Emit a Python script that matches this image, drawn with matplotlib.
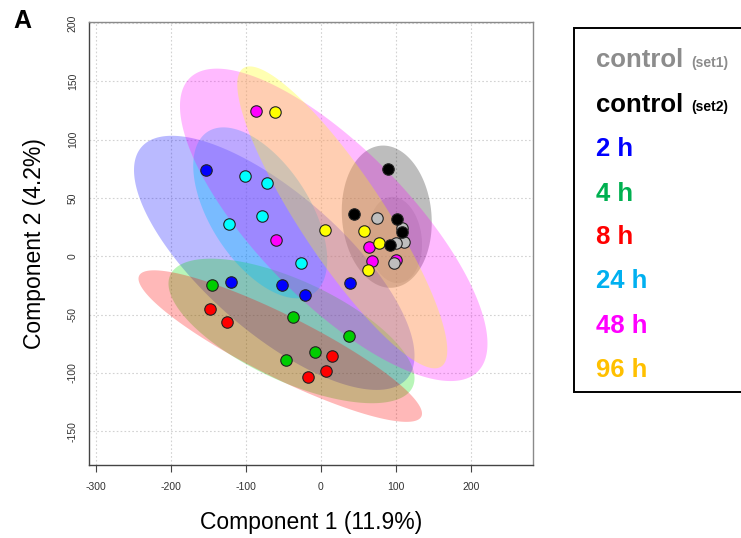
import numpy as np
import matplotlib
matplotlib.use("Agg")
import matplotlib.pyplot as plt
from matplotlib.patches import Rectangle

plt.rcParams['font.family'] = ['Liberation Sans', 'DejaVu Sans']

# ---------------- data ----------------
groups = ['control (set1)', 'control (set2)', '2 h', '4 h', '8 h', '24 h', '48 h', '96 h']

pc1_set1 = [74.9, 111.3, 100.3, 97.1, 108.7]
pc2_set1 = [32.8, 12.6, 11.1, -5.7, 24.0]
pc1_set2 = [89.6, 44.7, 101.1, 108.7, 92.7]
pc2_set2 = [75.2, 36.0, 31.7, 20.6, 9.4]
pc1_2h = [-152.7, -119.3, -51.7, -21.6, 38.4]
pc2_2h = [73.8, -22.0, -24.3, -32.8, -22.6]
pc1_4h = [-145.1, -37.1, 37.1, -7.7, -46.0]
pc2_4h = [-24.6, -52.3, -68.6, -81.7, -88.6]
pc1_8h = [-148.0, -125.1, 15.3, 7.3, -17.6]
pc2_8h = [-45.5, -56.6, -85.8, -98.6, -103.2]
pc1_24h = [-101.1, -72.3, -78.4, -122.9, -26.0]
pc2_24h = [68.6, 63.2, 34.3, 27.4, -5.7]
pc1_48h = [-86.0, -59.3, 64.7, 67.7, 99.7]
pc2_48h = [124.4, 13.7, 8.3, -4.3, -2.8]
pc1_96h = [-61.6, 5.1, 58.0, 78.0, 62.9]
pc2_96h = [124.1, 22.9, 21.7, 11.4, -11.4]

# confidence ellipses: centre x, centre y, half-range x, half-range y, correlation
ell_cx = [99.0, 88.0, -62.0, -39.0, -54.0, -80.7, 17.3, 28.7]
ell_cy = [14.0, 34.0, -5.6, -64.0, -77.0, 37.3, 27.0, 33.4]
ell_rx = [36.0, 60.0, 187.0, 164.0, 189.0, 89.3, 205.0, 140.0]
ell_ry = [37.0, 61.0, 109.0, 62.0, 65.0, 73.3, 134.0, 129.5]
ell_r = [-0.1, -0.08, -0.73, -0.655, -0.89, -0.55, -0.76, -0.88]

point_colors = ['#bebebe', '#000000', '#0000ff', '#00cd00', '#ff0000', '#00ffff', '#ff00ff', '#ffff00']
fill_colors = ['#bebebe', '#000000', '#0000ff', '#00dd00', '#ff0000', '#00bfff', '#ff00ff', '#ffff00']
fill_alpha = [0.35, 0.26, 0.27, 0.28, 0.28, 0.35, 0.27, 0.3]
legend_colors = ['#8c8c8c', '#000000', '#0000ff', '#00b050', '#ff0000', '#00b0f0', '#ff00ff', '#ffc000']

xticks = [-300, -200, -100, 0, 100, 200]
yticks = [-150, -100, -50, 0, 50, 100, 150, 200]

pcs = [(pc1_set1, pc2_set1), (pc1_set2, pc2_set2), (pc1_2h, pc2_2h), (pc1_4h, pc2_4h),
       (pc1_8h, pc2_8h), (pc1_24h, pc2_24h), (pc1_48h, pc2_48h), (pc1_96h, pc2_96h)]

# ---------------- figure ----------------
W, H = 741, 538
fig = plt.figure(figsize=(W / 100, H / 100), dpi=100)
L, R, T, B = 89, 533, 22, 465
ax = fig.add_axes([L / W, 1 - B / H, (R - L) / W, (B - T) / H])
ax.set_xlim(-309, 283)
ax.set_ylim(-179, 201)

ax.set_xticks(xticks)
ax.set_yticks(yticks)
ax.set_xticklabels([str(v) for v in xticks])
ax.set_yticklabels([str(v) for v in yticks], rotation=90, va='center')
ax.tick_params(axis='x', length=5, width=0.8, color='#444444', labelsize=7.5,
               labelcolor='#333333', pad=7)
ax.tick_params(axis='y', length=0, labelsize=7.5, labelcolor='#333333', pad=8)
ax.grid(True, linestyle=(0, (1.5, 2)), color='#d2d2d2', linewidth=0.8)
ax.set_axisbelow(True)
for s in ['left', 'bottom']:
    ax.spines[s].set_color('#444444')
    ax.spines[s].set_linewidth(1.0)
for s in ['top', 'right']:
    ax.spines[s].set_color('#8a8a8a')
    ax.spines[s].set_linewidth(1.0)

t = np.linspace(0, 2 * np.pi, 300)
draw_order = [0, 1, 2, 3, 4, 5, 6, 7]
for i in draw_order:
    ex = ell_cx[i] + ell_rx[i] * np.cos(t)
    ey = ell_cy[i] + ell_ry[i] * (ell_r[i] * np.cos(t) + np.sqrt(1 - ell_r[i] ** 2) * np.sin(t))
    ax.fill(ex, ey, color=fill_colors[i], alpha=fill_alpha[i], linewidth=0, zorder=2)

point_order = [2, 3, 4, 5, 6, 7, 0, 1]
for i in point_order:
    xs, ys = pcs[i]
    ax.scatter(xs, ys, s=68, c=point_colors[i], edgecolors='#222222', linewidths=0.8, zorder=5)

ax.set_xlabel('Component 1 (11.9%)', fontsize=16.5, labelpad=14)
ax.set_ylabel('Component 2 (4.2%)', fontsize=16.5, labelpad=16)

fig.text(13 / W, 1 - 28 / H, 'A', fontsize=18, fontweight='bold', va='baseline', ha='left')

# ---------------- legend ----------------
box = Rectangle((574 / W, 1 - 392 / H), 200 / W, (392 - 28) / H, transform=fig.transFigure,
                facecolor='white', edgecolor='black', linewidth=1.4, clip_on=False)
fig.patches.append(box)

fig.canvas.draw()
renderer = fig.canvas.get_renderer()
baselines = [67, 111.5, 156.5, 200.5, 244.5, 288.5, 333, 377]
main_labels = ['control', 'control', '2 h', '4 h', '8 h', '24 h', '48 h', '96 h']
sub_labels = ['(set1)', '(set2)', '', '', '', '', '', '']
for lab, sub, col, yb in zip(main_labels, sub_labels, legend_colors, baselines):
    tx = fig.text(596 / W, 1 - yb / H, lab, fontsize=18.5, fontweight='bold', color=col,
                  va='baseline', ha='left')
    if sub:
        bb = tx.get_window_extent(renderer)
        fig.text((bb.x1 + 8) / W, 1 - yb / H, sub, fontsize=10, fontweight='bold', color=col,
                 va='baseline', ha='left')

fig.savefig('out.png', dpi=100)
